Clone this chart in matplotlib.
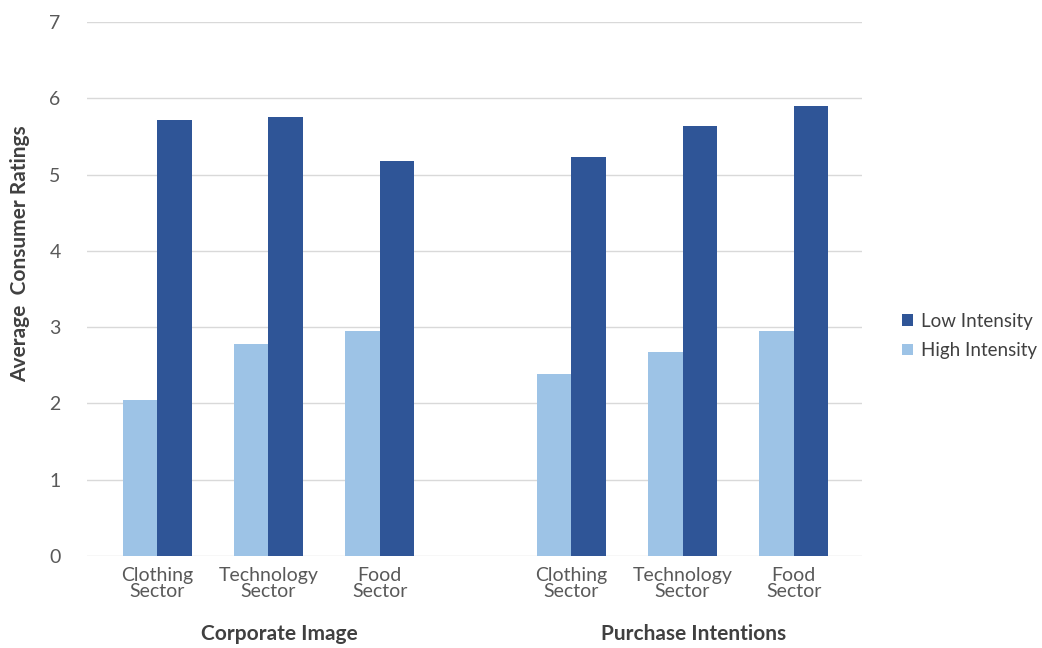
import numpy as np
import matplotlib.pyplot as plt
from matplotlib.transforms import blended_transform_factory

# data
groups = ['Corporate Image', 'Purchase Intentions']
sectors = ['Clothing\nSector', 'Technology\nSector', 'Food\nSector']
low_intensity = [[5.72, 5.76, 5.18], [5.23, 5.64, 5.90]]
high_intensity = [[2.04, 2.78, 2.95], [2.38, 2.67, 2.95]]

dark_blue = '#2F5597'
light_blue = '#9DC3E6'
txt = '#404040'

plt.rcParams['font.family'] = ['Lato', 'DejaVu Sans']

fig = plt.figure(figsize=(10.42, 6.48), dpi=100)
ax = fig.add_axes([0.0835, 0.142, 0.7435, 0.824])

group_gap = 3.72
w = 0.31
tick_pos = []
tick_lab = []
group_centers = []
for g in range(len(groups)):
    x = np.arange(len(sectors)) + g * group_gap
    ax.bar(x - w / 2, high_intensity[g], w, color=light_blue, zorder=2,
           label='High Intensity' if g == 0 else None)
    ax.bar(x + w / 2, low_intensity[g], w, color=dark_blue, zorder=2,
           label='Low Intensity' if g == 0 else None)
    tick_pos += list(x)
    tick_lab += sectors
    group_centers.append(x.mean())

ax.set_xlim(-0.63, 2 + group_gap + 0.61)
ax.set_ylim(0, 7)
ax.set_yticks(range(0, 8))
ax.yaxis.grid(True, color='#d9d9d9', lw=1)
ax.set_axisbelow(True)
for s in ax.spines.values():
    s.set_visible(False)
ax.tick_params(axis='both', length=0, labelsize=14, labelcolor='#595959')
ax.tick_params(axis='y', pad=19)
ax.set_xticks(tick_pos)
ax.set_xticklabels(tick_lab, linespacing=0.9)
ax.tick_params(axis='x', pad=8)

tr = blended_transform_factory(ax.transData, fig.transFigure)
for g, c in zip(groups, group_centers):
    ax.text(c + 0.1, 1 - 634 / 648, g, transform=tr, ha='center', va='center',
            fontsize=15, fontweight='bold', color=txt)

fig.text(20 / 1042, 1 - 254 / 648, 'Average  Consumer Ratings', rotation=90,
         ha='center', va='center', fontsize=15, fontweight='bold', color=txt)

handles, labels = ax.get_legend_handles_labels()
fig.legend(handles[::-1], labels[::-1], loc='center left',
           bbox_to_anchor=(902 / 1042, 1 - 336 / 648), frameon=False,
           borderpad=0, borderaxespad=0,
           fontsize=13.5, labelcolor=txt, handlelength=0.6, handleheight=0.6,
           handletextpad=0.4, labelspacing=0.65)

fig.savefig('out.png', dpi=100)
